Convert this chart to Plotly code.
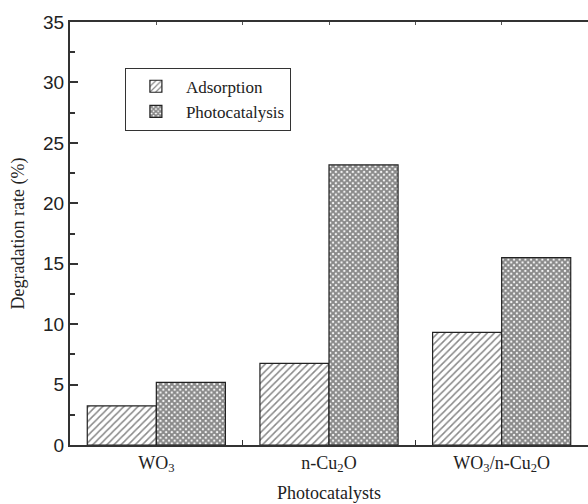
import plotly.graph_objects as go

categories = ["WO<sub>3</sub>", "n-Cu<sub>2</sub>O", "WO<sub>3</sub>/n-Cu<sub>2</sub>O"]
adsorption = [3.23, 6.76, 9.32]
photocatalysis = [5.19, 23.17, 15.5]
y_ticks = [0, 5, 10, 15, 20, 25, 30, 35]

serif = "Liberation Serif, Times New Roman, serif"
sans = "Liberation Sans, Arial, sans-serif"

fig = go.Figure()
fig.add_trace(go.Bar(
    x=categories, y=adsorption, name="Adsorption",
    marker=dict(color="white", line=dict(color="#222", width=1.2),
                pattern=dict(shape="/", fgcolor="#111", bgcolor="white", size=5, solidity=0.3)),
))
fig.add_trace(go.Bar(
    x=categories, y=photocatalysis, name="Photocatalysis",
    marker=dict(color="white", line=dict(color="#222", width=1.2),
                pattern=dict(shape="x", fgcolor="#111", bgcolor="white", size=4, solidity=0.75)),
))
# invisible trace to carry the top axis ticks
fig.add_trace(go.Scatter(x=[0, 2], y=[0, 0], xaxis="x2", mode="markers",
                         marker=dict(opacity=0), showlegend=False, hoverinfo="skip"))

fig.update_layout(
    width=588, height=504,
    margin=dict(l=70, r=0, t=22, b=59),
    paper_bgcolor="white", plot_bgcolor="white",
    barmode="group", bargap=0.2, bargroupgap=0,
    font=dict(family=serif, size=18, color="#222"),
    legend=dict(x=0.106, y=0.892, xanchor="left", yanchor="top",
                bordercolor="#333", borderwidth=1, bgcolor="white",
                font=dict(family=serif, size=17, color="#222"),
                tracegroupgap=0, itemwidth=50),
    xaxis=dict(
        range=[-0.5, 2.5], showline=True, linecolor="#333", linewidth=2,
        mirror=True, ticks="inside", tickson="boundaries", ticklen=5,
        tickcolor="#333", showgrid=False, automargin=False,
        tickfont=dict(family=serif, size=18, color="#222"),
        title=dict(text="Photocatalysts", font=dict(family=serif, size=18, color="#222"),
                   standoff=12),
    ),
    xaxis2=dict(
        overlaying="x", side="top", range=[-0.5, 2.5],
        tickvals=[0, 0.5, 1, 1.5, 2], ticks="inside", ticklen=3,
        tickcolor="#555", showticklabels=False, showgrid=False,
        showline=False, zeroline=False,
    ),
    yaxis=dict(
        range=[0, 35], tickvals=y_ticks, showline=True, linecolor="#333", linewidth=2,
        ticks="inside", ticklen=8, tickcolor="#333", tickwidth=1.5, showgrid=False,
        zeroline=False, automargin=False,
        minor=dict(dtick=2.5, ticks="inside", ticklen=5, tickcolor="#333", showgrid=False),
        tickfont=dict(family=sans, size=19, color="#222"),
        title=dict(text="Degradation rate (%)", font=dict(family=serif, size=18, color="#222"),
                   standoff=14),
    ),
)

fig.write_html("out.html", config={"displayModeBar": False},
               post_script="document.body.style.margin='0';")
